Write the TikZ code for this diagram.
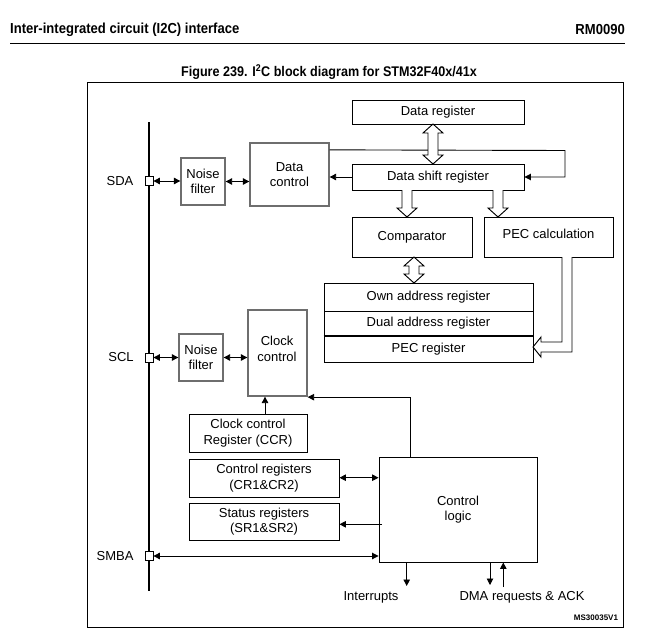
\documentclass[tikz,border=0pt]{standalone}
\usepackage{fontspec}
\setmainfont{Liberation Sans}
\newfontfamily\hdrfont[FakeStretch=0.9]{Liberation Sans}
\usetikzlibrary{arrows.meta,calc}
\definecolor{boxgray}{RGB}{110,110,110}
\tikzset{
  txt/.style={font=\fontsize{13}{15.5}\selectfont, align=center, inner sep=0pt},
  blk/.style={draw=black, line width=0.9pt, fill=white, inner sep=0pt, txt},
  gblk/.style={draw=boxgray, line width=1.3pt, fill=white, inner sep=0pt, txt},
  port/.style={draw=black, line width=0.8pt, fill=white, minimum width=8pt, minimum height=9pt, inner sep=0pt},
  tip/.tip={Triangle[length=6.5pt,width=6.5pt]},
  arr/.style={line width=0.9pt, -tip},
  darr/.style={line width=0.9pt, tip-tip},
  hollow/.style={draw=black, line width=0.95pt, fill=white, line join=miter}
}
% hollow double-headed vertical arrow: x, ytop, ybottom
\newcommand\hdbl[3]{%
  \draw[hollow] (#1,#2) -- ++(10,9) -- ++(-5,0) -- (#1+5,#3-9) -- ++(5,0) -- (#1,#3)
    -- ++(-10,-9) -- ++(5,0) -- (#1-5,#2+9) -- ++(-5,0) -- cycle;}
% hollow single-headed vertical arrow pointing down: x, ytop, ybottom
\newcommand\hdown[3]{%
  \draw[hollow] (#1-5,#2) -- (#1-5,#3-9) -- ++(-5,0) -- (#1,#3) -- ++(10,-9) -- ++(-5,0) -- (#1+5,#2);}
\begin{document}
\begin{tikzpicture}[x=1pt,y=-1pt]
\useasboundingbox (0,0) rectangle (658,642);
\fill[white] (0,0) rectangle (658,642);

% header
\node[font=\hdrfont\bfseries\fontsize{14.5}{16}\selectfont, anchor=west, inner sep=0pt] (hdr) at (10,30) {Inter-integrated circuit (I2C) interface};
\node[font=\hdrfont\bfseries\fontsize{14.5}{16}\selectfont, anchor=east, inner sep=0pt] (rm) at (625,30) {RM0090};
\coordinate (rl) at (10,43.3);
\coordinate (rr) at (625,43.3);
\draw[line width=1.2pt] (rl) -- (rr);
\node[font=\hdrfont\bfseries\fontsize{14}{16}\selectfont, inner sep=0pt] (title) at (329,72) {Figure 239. I\textsuperscript{2}C block diagram for STM32F40x/41x};

% frame
\draw[line width=1pt] (87,82) rectangle (623,627);

% bus
\coordinate (bt) at (149,122);
\coordinate (bb) at (149,591);
\draw[line width=2.3pt] (bt) -- (bb);

% blocks
\node[gblk, minimum width=44pt, minimum height=47pt] (nf1) at (203,181.5) {Noise\\filter};
\node[gblk, minimum width=79pt, minimum height=63pt] (dc) at (289.5,174.5) {Data\\control};
\node[blk, minimum width=172pt, minimum height=24pt] (dr) at (438,112) {Data register};
\node[blk, minimum width=172pt, minimum height=26pt] (dsr) at (438,177) {Data shift register};
\node[blk, minimum width=120pt, minimum height=40pt] (cmp) at (412,237) {Comparator};
\node[blk, minimum width=129pt, minimum height=40pt, text depth=6pt] (pec) at (548.5,237) {PEC calculation};
\node[blk, minimum width=209pt, minimum height=28pt] (oar) at (428.5,297) {Own address register};
\node[blk, minimum width=209pt, minimum height=25pt] (dar) at (428.5,323.5) {Dual address register};
\node[blk, minimum width=209pt, minimum height=26pt] (pecr) at (428.5,349) {PEC register};
\draw[line width=2pt] (pecr.north west) -- (pecr.north east);

\node[gblk, minimum width=44pt, minimum height=47pt] (nf2) at (201,357.5) {Noise\\filter};
\node[gblk, minimum width=59pt, minimum height=86pt] (cc) at (277.5,353) {};
\node[txt] (cct) at (277,349) {Clock\\control};
\node[blk, minimum width=118pt, minimum height=38pt] (ccr) at (248,433) {Clock control\\Register (CCR)};
\node[blk, minimum width=150pt, minimum height=38pt] (cr) at (264,478) {Control registers\\(CR1\&CR2)};
\node[blk, minimum width=150pt, minimum height=37pt] (sr) at (264,521.5) {Status registers\\(SR1\&SR2)};
\node[blk, minimum width=158pt, minimum height=105pt] (cl) at (458,509.5) {Control\\logic};

% ports and labels
\node[port] (sda) at (149,181) {};
\node[port] (scl) at (149,357.5) {};
\node[port] (smba) at (149,556) {};
\node[txt] (sdal) at (120,181) {SDA};
\node[txt] (scll) at (121,357.5) {SCL};
\node[txt] (smbal) at (115,556) {SMBA};

% SDA path
\draw[darr] (sda.east) -- (sda.east -| nf1.west);
\draw[darr] (nf1.east) -- (nf1.east -| dc.west);
\draw[arr] (dsr.west) -- (dsr.west -| dc.east);
\coordinate (dcr) at ($(dc.north east)+(0,7.5)$);
\coordinate (k1) at (565,150.5);
\draw[arr] (dcr) -- (k1) |- (dsr.east);

% hollow arrows
\hdbl{433}{124}{164}
\hdown{407}{190}{217}
\hdown{498}{190}{217}
\hdbl{414}{257}{283}
\draw[hollow] (562,257) -- (562,342) -- (541,342) -- (541,337) -- (533,347) -- (541,357) -- (541,352) -- (572,352) -- (572,257);

% SCL path
\draw[darr] (scl.east) -- (scl.east -| nf2.west);
\draw[darr] (nf2.east) -- (nf2.east -| cc.west);
\draw[arr] ([xshift=17pt]ccr.north) -- ([xshift=17pt]ccr.north |- cc.south);
\draw[arr] ([xshift=-47.5pt]cl.north) |- ([yshift=-0.5pt]cc.south east);

% control logic connections
\draw[darr] (cr.east |- 0,477.7) -- (cl.west |- 0,477.7);
\coordinate (sra) at (382,524.3);
\draw[arr] (sra) -- (sra -| sr.east);
\draw[darr] (smba.east) -- (smba.east -| cl.west);

\coordinate (ie) at (406.7,586);
\draw[arr] (ie |- cl.south) -- (ie);
\coordinate (de) at (490,585);
\draw[arr] (de |- cl.south) -- (de);
\coordinate (ae) at (503.3,587);
\draw[arr] (ae) -- (ae |- cl.south);

\node[txt] (intl) at (371,597) {Interrupts};
\node[txt] (dmal) at (522,597) {DMA requests \& ACK};
\node[font=\bfseries\fontsize{8}{9}\selectfont, inner sep=0pt] (ms) at (596,618) {MS30035V1};
\end{tikzpicture}
\end{document}
